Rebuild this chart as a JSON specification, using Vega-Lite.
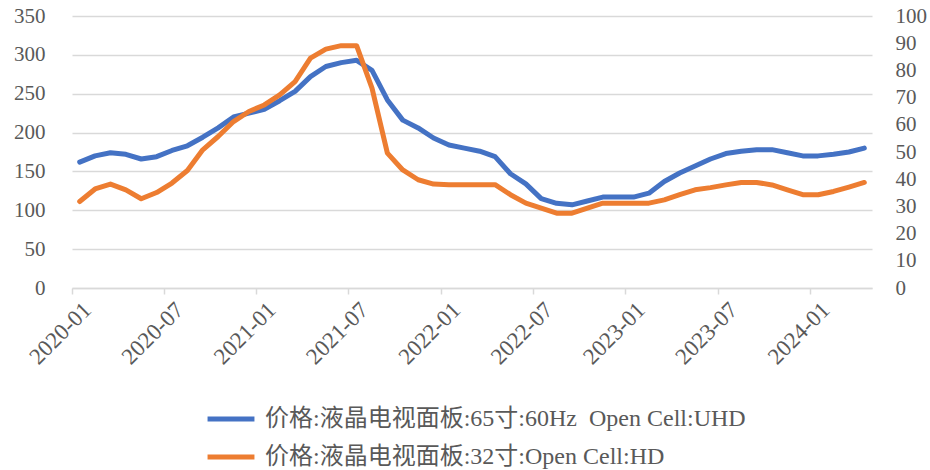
{
  "$schema": "https://vega.github.io/schema/vega-lite/v6.json",
  "width": 800,
  "height": 272,
  "autosize": "none",
  "padding": {"left": 72, "top": 16, "right": 58, "bottom": 182},
  "background": "white",
  "config": {"view": {"stroke": null}, "font": "Liberation Serif"},
  "data": {"values": [
    {"month": "2020-01", "uhd": 162, "hd": 31.8},
    {"month": "2020-02", "uhd": 170, "hd": 36.4},
    {"month": "2020-03", "uhd": 174, "hd": 38.2},
    {"month": "2020-04", "uhd": 172, "hd": 36.1},
    {"month": "2020-05", "uhd": 166, "hd": 32.8},
    {"month": "2020-06", "uhd": 169, "hd": 35.1},
    {"month": "2020-07", "uhd": 177, "hd": 38.6},
    {"month": "2020-08", "uhd": 183, "hd": 43.2},
    {"month": "2020-09", "uhd": 194, "hd": 50.8},
    {"month": "2020-10", "uhd": 206, "hd": 55.7},
    {"month": "2020-11", "uhd": 220, "hd": 61.2},
    {"month": "2020-12", "uhd": 225, "hd": 64.9},
    {"month": "2021-01", "uhd": 230, "hd": 67.3},
    {"month": "2021-02", "uhd": 241, "hd": 71},
    {"month": "2021-03", "uhd": 253, "hd": 75.9},
    {"month": "2021-04", "uhd": 272, "hd": 84.5},
    {"month": "2021-05", "uhd": 285, "hd": 87.8},
    {"month": "2021-06", "uhd": 290, "hd": 89.1},
    {"month": "2021-07", "uhd": 293, "hd": 89.1},
    {"month": "2021-08", "uhd": 280, "hd": 73.5},
    {"month": "2021-09", "uhd": 242, "hd": 49.6},
    {"month": "2021-10", "uhd": 216, "hd": 43.4},
    {"month": "2021-11", "uhd": 206, "hd": 39.8},
    {"month": "2021-12", "uhd": 193, "hd": 38.2},
    {"month": "2022-01", "uhd": 184, "hd": 38},
    {"month": "2022-02", "uhd": 180, "hd": 38},
    {"month": "2022-03", "uhd": 176, "hd": 38},
    {"month": "2022-04", "uhd": 169, "hd": 38},
    {"month": "2022-05", "uhd": 147, "hd": 34.3},
    {"month": "2022-06", "uhd": 134, "hd": 31.2},
    {"month": "2022-07", "uhd": 115, "hd": 29.4},
    {"month": "2022-08", "uhd": 109, "hd": 27.5},
    {"month": "2022-09", "uhd": 107, "hd": 27.5},
    {"month": "2022-10", "uhd": 112, "hd": 29.4},
    {"month": "2022-11", "uhd": 117, "hd": 31.2},
    {"month": "2022-12", "uhd": 117, "hd": 31.2},
    {"month": "2023-01", "uhd": 117, "hd": 31.2},
    {"month": "2023-02", "uhd": 122, "hd": 31.2},
    {"month": "2023-03", "uhd": 137, "hd": 32.4},
    {"month": "2023-04", "uhd": 148, "hd": 34.3},
    {"month": "2023-05", "uhd": 157, "hd": 36.1},
    {"month": "2023-06", "uhd": 166, "hd": 36.9},
    {"month": "2023-07", "uhd": 173, "hd": 37.9},
    {"month": "2023-08", "uhd": 176, "hd": 38.8},
    {"month": "2023-09", "uhd": 178, "hd": 38.8},
    {"month": "2023-10", "uhd": 178, "hd": 37.9},
    {"month": "2023-11", "uhd": 174, "hd": 36.1},
    {"month": "2023-12", "uhd": 170, "hd": 34.3},
    {"month": "2024-01", "uhd": 170, "hd": 34.3},
    {"month": "2024-02", "uhd": 172, "hd": 35.5},
    {"month": "2024-03", "uhd": 175, "hd": 37.1},
    {"month": "2024-04", "uhd": 180, "hd": 38.8}
  ]},
  "encoding": {
    "x": {
      "field": "month", "type": "ordinal", "sort": null,
      "scale": {"type": "band", "paddingInner": 0, "paddingOuter": 0},
      "axis": {
        "title": null,
        "values": ["2020-01", "2020-07", "2021-01", "2021-07", "2022-01", "2022-07", "2023-01", "2023-07", "2024-01"],
        "bandPosition": 0,
        "labelAngle": -45,
        "labelAlign": "right",
        "labelBaseline": "middle",
        "labelFontSize": 23,
        "labelFont": "Liberation Serif",
        "labelColor": "#595959",
        "labelPadding": 12,
        "labelOffset": 8,
        "tickColor": "#D9D9D9",
        "tickWidth": 1.5,
        "tickSize": 6,
        "domainColor": "#D9D9D9",
        "domainWidth": 1.5,
        "grid": false
      }
    }
  },
  "layer": [
    {
      "mark": {"type": "line", "strokeWidth": 5, "strokeCap": "round", "strokeJoin": "round"},
      "encoding": {
        "y": {
          "field": "uhd", "type": "quantitative",
          "scale": {"domain": [0, 350], "nice": false},
          "axis": {
            "title": null,
            "values": [0, 50, 100, 150, 200, 250, 300, 350],
            "grid": true, "gridColor": "#D9D9D9", "gridWidth": 1.5,
            "domain": false, "ticks": false,
            "labelFontSize": 21, "labelFont": "Liberation Serif", "labelColor": "#595959",
            "labelPadding": 27
          }
        },
        "color": {
          "datum": "价格:液晶电视面板:65寸:60Hz\u00a0 Open Cell:UHD",
          "type": "nominal",
          "scale": {
            "domain": ["价格:液晶电视面板:65寸:60Hz\u00a0 Open Cell:UHD", "价格:液晶电视面板:32寸:Open Cell:HD"],
            "range": ["#4472C4", "#ED7D31"]
          },
          "legend": {
            "title": null,
            "orient": "none",
            "legendX": 133,
            "legendY": 377,
            "direction": "vertical",
            "symbolType": "stroke",
            "symbolStrokeWidth": 5,
            "symbolSize": 2200,
            "labelFontSize": 24,
            "labelFont": "Liberation Serif, Noto Sans CJK SC",
            "labelColor": "#595959",
            "labelLimit": 800,
            "rowPadding": -1,
            "labelOffset": 8
          }
        }
      }
    },
    {
      "mark": {"type": "line", "strokeWidth": 5, "strokeCap": "round", "strokeJoin": "round"},
      "encoding": {
        "y": {
          "field": "hd", "type": "quantitative",
          "scale": {"domain": [0, 100], "nice": false},
          "axis": {
            "title": null,
            "orient": "right",
            "values": [0, 10, 20, 30, 40, 50, 60, 70, 80, 90, 100],
            "grid": false, "domain": false, "ticks": false,
            "labelFontSize": 21, "labelFont": "Liberation Serif", "labelColor": "#595959",
            "labelPadding": 23
          }
        },
        "color": {"datum": "价格:液晶电视面板:32寸:Open Cell:HD", "type": "nominal"}
      }
    }
  ],
  "resolve": {"scale": {"y": "independent"}}
}
